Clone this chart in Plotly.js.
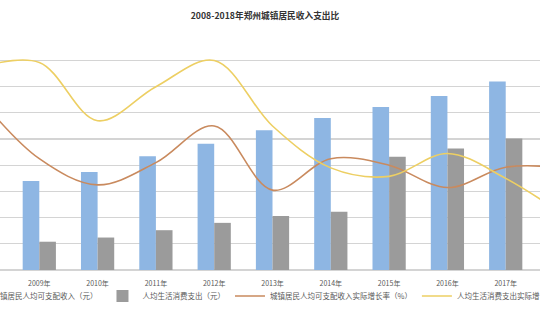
<!DOCTYPE html>
<html>
<head>
<meta charset="utf-8">
<script src="https://cdn.plot.ly/plotly-3.0.1.min.js"></script>
<style>
html,body{margin:0;padding:0;background:#fff;overflow:hidden;width:540px;height:320px;}
#wrap{position:relative;width:540px;height:320px;overflow:hidden;}
#chart{position:absolute;left:-200px;top:0;width:860px;height:320px;}
</style>
</head>
<body>
<div id="wrap"><div id="chart"></div></div>
<script>
const years = ["2008年","2009年","2010年","2011年","2012年","2013年","2014年","2015年","2016年","2017年","2018年"];
const income = [null,17000,18700,21700,24100,26700,29000,31100,33200,36000,null];
const spending = [null,5400,6200,7600,9000,10300,11100,21600,23200,25100,null];
const incomeGrowth = [13.0,8.5,6.5,8.2,11.0,6.1,8.5,8.0,6.3,7.85,7.8];
const spendingGrowth = [15.5,15.85,11.4,14.0,16.0,11.0,7.8,7.15,8.9,7.0,4.2];
const names = ["城镇居民人均可支配收入（元）","人均生活消费支出（元）","城镇居民人均可支配收入实际增长率（%）","人均生活消费支出实际增长率（%）"];
const title = "2008-2018年郑州城镇居民收入支出比";

const FONT = "'Noto Sans CJK SC', 'Noto Sans', sans-serif";
const traces = [
  {type:'bar', x:years, y:income, name:names[0], marker:{color:'#8EB6E3'}, yaxis:'y'},
  {type:'bar', x:years, y:spending, name:names[1], marker:{color:'#9B9B9B'}, yaxis:'y'},
  {type:'scatter', mode:'lines', x:years, y:incomeGrowth, name:names[2], line:{color:'#C98A5E', width:1.6, shape:'spline', smoothing:1}, yaxis:'y2'},
  {type:'scatter', mode:'lines', x:years, y:spendingGrowth, name:names[3], line:{color:'#EDCF63', width:1.6, shape:'spline', smoothing:1}, yaxis:'y2'}
];
const layout = {
  width:860, height:320,
  margin:{l:200, r:120, t:34, b:50, autoexpand:false},
  paper_bgcolor:'#fff', plot_bgcolor:'#fff',
  font:{family:FONT, color:'#595959', size:8},
  title:{text:'<b>'+title+'</b>', xref:'paper', x:0.4907, xanchor:'center', y:0.95, yanchor:'middle', font:{family:FONT, size:8.7, color:'#333333'}},
  barmode:'group', bargap:0.43, bargroupgap:0,
  xaxis:{type:'category', range:[0.326, 9.588], showgrid:false, zeroline:false, showline:false, ticks:'', tickfont:{size:7, color:'#595959'}, ticklabelstandoff:8},
  yaxis:{range:[0,45060], tick0:0, dtick:5000, showticklabels:false, gridcolor:'#D4D4D4', gridwidth:1.2, zeroline:true, zerolinecolor:'#D4D4D4', zerolinewidth:1.2},
  yaxis2:{range:[0,18.024], overlaying:'y', side:'right', showgrid:false, showticklabels:false, zeroline:false},
  showlegend:true,
  legend:{orientation:'h', x:-0.088, xanchor:'left', y:-0.11, yanchor:'middle', font:{size:7.5, color:'#595959'}, traceorder:'normal', bgcolor:'rgba(0,0,0,0)'}
};
Plotly.newPlot('chart', traces, layout, {displayModeBar:false, staticPlot:true});
</script>
</body>
</html>
